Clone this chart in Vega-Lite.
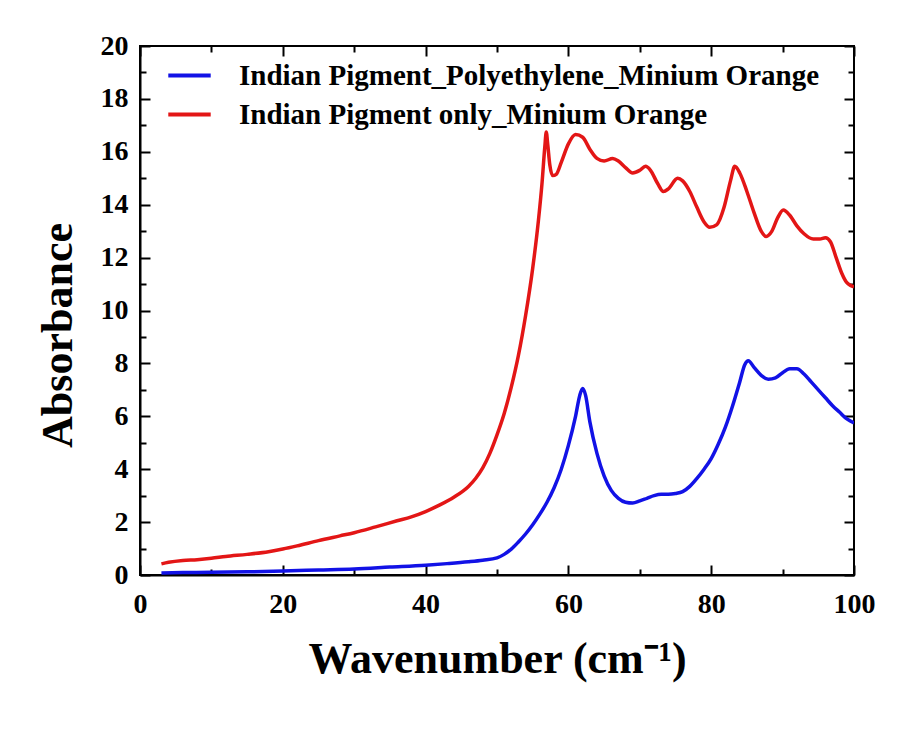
{
  "$schema": "https://vega.github.io/schema/vega-lite/v6.json",
  "width": 714,
  "height": 529,
  "autosize": {"type": "none"},
  "padding": {"left": 140, "top": 46, "right": 49, "bottom": 160},
  "background": "white",
  "config": {
    "view": {"stroke": "black", "strokeWidth": 2},
    "font": "Liberation Serif",
    "axis": {
      "labelFont": "Liberation Serif",
      "labelFontWeight": "bold",
      "labelColor": "black",
      "titleFont": "Liberation Serif",
      "titleFontWeight": "bold",
      "titleColor": "black",
      "domainColor": "black",
      "domainWidth": 2,
      "tickColor": "black",
      "tickWidth": 2,
      "grid": false,
      "labelOverlap": false,
      "labelFlush": false
    },
    "legend": {
      "labelFont": "Liberation Serif",
      "labelFontWeight": "bold",
      "labelColor": "black"
    }
  },
  "data": {"name": "spectra"},
  "datasets": {
    "spectra": [
      {"series": "Indian Pigment_Polyethylene_Minium Orange", "wavenumber": 3, "absorbance": 0.08},
      {"series": "Indian Pigment_Polyethylene_Minium Orange", "wavenumber": 6, "absorbance": 0.09},
      {"series": "Indian Pigment_Polyethylene_Minium Orange", "wavenumber": 10, "absorbance": 0.1},
      {"series": "Indian Pigment_Polyethylene_Minium Orange", "wavenumber": 15, "absorbance": 0.12},
      {"series": "Indian Pigment_Polyethylene_Minium Orange", "wavenumber": 20, "absorbance": 0.15},
      {"series": "Indian Pigment_Polyethylene_Minium Orange", "wavenumber": 25, "absorbance": 0.19},
      {"series": "Indian Pigment_Polyethylene_Minium Orange", "wavenumber": 30, "absorbance": 0.23},
      {"series": "Indian Pigment_Polyethylene_Minium Orange", "wavenumber": 35, "absorbance": 0.3},
      {"series": "Indian Pigment_Polyethylene_Minium Orange", "wavenumber": 40, "absorbance": 0.37},
      {"series": "Indian Pigment_Polyethylene_Minium Orange", "wavenumber": 43, "absorbance": 0.43},
      {"series": "Indian Pigment_Polyethylene_Minium Orange", "wavenumber": 46, "absorbance": 0.5},
      {"series": "Indian Pigment_Polyethylene_Minium Orange", "wavenumber": 48, "absorbance": 0.56},
      {"series": "Indian Pigment_Polyethylene_Minium Orange", "wavenumber": 50, "absorbance": 0.65},
      {"series": "Indian Pigment_Polyethylene_Minium Orange", "wavenumber": 51, "absorbance": 0.78},
      {"series": "Indian Pigment_Polyethylene_Minium Orange", "wavenumber": 52, "absorbance": 0.98},
      {"series": "Indian Pigment_Polyethylene_Minium Orange", "wavenumber": 53, "absorbance": 1.25},
      {"series": "Indian Pigment_Polyethylene_Minium Orange", "wavenumber": 54, "absorbance": 1.55},
      {"series": "Indian Pigment_Polyethylene_Minium Orange", "wavenumber": 55, "absorbance": 1.9},
      {"series": "Indian Pigment_Polyethylene_Minium Orange", "wavenumber": 56, "absorbance": 2.3},
      {"series": "Indian Pigment_Polyethylene_Minium Orange", "wavenumber": 57, "absorbance": 2.75},
      {"series": "Indian Pigment_Polyethylene_Minium Orange", "wavenumber": 58, "absorbance": 3.3},
      {"series": "Indian Pigment_Polyethylene_Minium Orange", "wavenumber": 59, "absorbance": 4.0},
      {"series": "Indian Pigment_Polyethylene_Minium Orange", "wavenumber": 60, "absorbance": 4.9},
      {"series": "Indian Pigment_Polyethylene_Minium Orange", "wavenumber": 61, "absorbance": 6.0},
      {"series": "Indian Pigment_Polyethylene_Minium Orange", "wavenumber": 61.6, "absorbance": 6.8},
      {"series": "Indian Pigment_Polyethylene_Minium Orange", "wavenumber": 62, "absorbance": 7.05},
      {"series": "Indian Pigment_Polyethylene_Minium Orange", "wavenumber": 62.4, "absorbance": 6.8},
      {"series": "Indian Pigment_Polyethylene_Minium Orange", "wavenumber": 63, "absorbance": 5.8},
      {"series": "Indian Pigment_Polyethylene_Minium Orange", "wavenumber": 64, "absorbance": 4.6},
      {"series": "Indian Pigment_Polyethylene_Minium Orange", "wavenumber": 65, "absorbance": 3.75},
      {"series": "Indian Pigment_Polyethylene_Minium Orange", "wavenumber": 66, "absorbance": 3.2},
      {"series": "Indian Pigment_Polyethylene_Minium Orange", "wavenumber": 67, "absorbance": 2.9},
      {"series": "Indian Pigment_Polyethylene_Minium Orange", "wavenumber": 68, "absorbance": 2.75},
      {"series": "Indian Pigment_Polyethylene_Minium Orange", "wavenumber": 69, "absorbance": 2.72},
      {"series": "Indian Pigment_Polyethylene_Minium Orange", "wavenumber": 70, "absorbance": 2.8},
      {"series": "Indian Pigment_Polyethylene_Minium Orange", "wavenumber": 71, "absorbance": 2.9},
      {"series": "Indian Pigment_Polyethylene_Minium Orange", "wavenumber": 72, "absorbance": 3.0},
      {"series": "Indian Pigment_Polyethylene_Minium Orange", "wavenumber": 73, "absorbance": 3.05},
      {"series": "Indian Pigment_Polyethylene_Minium Orange", "wavenumber": 74, "absorbance": 3.05},
      {"series": "Indian Pigment_Polyethylene_Minium Orange", "wavenumber": 75, "absorbance": 3.08},
      {"series": "Indian Pigment_Polyethylene_Minium Orange", "wavenumber": 76, "absorbance": 3.15},
      {"series": "Indian Pigment_Polyethylene_Minium Orange", "wavenumber": 77, "absorbance": 3.35},
      {"series": "Indian Pigment_Polyethylene_Minium Orange", "wavenumber": 78, "absorbance": 3.65},
      {"series": "Indian Pigment_Polyethylene_Minium Orange", "wavenumber": 79, "absorbance": 4.0},
      {"series": "Indian Pigment_Polyethylene_Minium Orange", "wavenumber": 80, "absorbance": 4.4},
      {"series": "Indian Pigment_Polyethylene_Minium Orange", "wavenumber": 81, "absorbance": 4.95},
      {"series": "Indian Pigment_Polyethylene_Minium Orange", "wavenumber": 82, "absorbance": 5.6},
      {"series": "Indian Pigment_Polyethylene_Minium Orange", "wavenumber": 83, "absorbance": 6.4},
      {"series": "Indian Pigment_Polyethylene_Minium Orange", "wavenumber": 84, "absorbance": 7.3},
      {"series": "Indian Pigment_Polyethylene_Minium Orange", "wavenumber": 84.7, "absorbance": 7.95},
      {"series": "Indian Pigment_Polyethylene_Minium Orange", "wavenumber": 85.2, "absorbance": 8.1},
      {"series": "Indian Pigment_Polyethylene_Minium Orange", "wavenumber": 86, "absorbance": 7.85},
      {"series": "Indian Pigment_Polyethylene_Minium Orange", "wavenumber": 87, "absorbance": 7.55},
      {"series": "Indian Pigment_Polyethylene_Minium Orange", "wavenumber": 88, "absorbance": 7.4},
      {"series": "Indian Pigment_Polyethylene_Minium Orange", "wavenumber": 89, "absorbance": 7.45},
      {"series": "Indian Pigment_Polyethylene_Minium Orange", "wavenumber": 90, "absorbance": 7.65},
      {"series": "Indian Pigment_Polyethylene_Minium Orange", "wavenumber": 91, "absorbance": 7.8},
      {"series": "Indian Pigment_Polyethylene_Minium Orange", "wavenumber": 92, "absorbance": 7.8},
      {"series": "Indian Pigment_Polyethylene_Minium Orange", "wavenumber": 93, "absorbance": 7.6},
      {"series": "Indian Pigment_Polyethylene_Minium Orange", "wavenumber": 94, "absorbance": 7.3},
      {"series": "Indian Pigment_Polyethylene_Minium Orange", "wavenumber": 95, "absorbance": 7.0},
      {"series": "Indian Pigment_Polyethylene_Minium Orange", "wavenumber": 96, "absorbance": 6.7},
      {"series": "Indian Pigment_Polyethylene_Minium Orange", "wavenumber": 97, "absorbance": 6.4},
      {"series": "Indian Pigment_Polyethylene_Minium Orange", "wavenumber": 98, "absorbance": 6.15},
      {"series": "Indian Pigment_Polyethylene_Minium Orange", "wavenumber": 99, "absorbance": 5.9},
      {"series": "Indian Pigment_Polyethylene_Minium Orange", "wavenumber": 100, "absorbance": 5.75},
      {"series": "Indian Pigment only_Minium Orange", "wavenumber": 3, "absorbance": 0.42},
      {"series": "Indian Pigment only_Minium Orange", "wavenumber": 4, "absorbance": 0.48},
      {"series": "Indian Pigment only_Minium Orange", "wavenumber": 6, "absorbance": 0.55},
      {"series": "Indian Pigment only_Minium Orange", "wavenumber": 8, "absorbance": 0.58},
      {"series": "Indian Pigment only_Minium Orange", "wavenumber": 10, "absorbance": 0.63},
      {"series": "Indian Pigment only_Minium Orange", "wavenumber": 12, "absorbance": 0.7},
      {"series": "Indian Pigment only_Minium Orange", "wavenumber": 15, "absorbance": 0.78},
      {"series": "Indian Pigment only_Minium Orange", "wavenumber": 18, "absorbance": 0.88},
      {"series": "Indian Pigment only_Minium Orange", "wavenumber": 20, "absorbance": 0.98},
      {"series": "Indian Pigment only_Minium Orange", "wavenumber": 22, "absorbance": 1.1},
      {"series": "Indian Pigment only_Minium Orange", "wavenumber": 25, "absorbance": 1.3},
      {"series": "Indian Pigment only_Minium Orange", "wavenumber": 28, "absorbance": 1.48},
      {"series": "Indian Pigment only_Minium Orange", "wavenumber": 30, "absorbance": 1.6},
      {"series": "Indian Pigment only_Minium Orange", "wavenumber": 33, "absorbance": 1.82},
      {"series": "Indian Pigment only_Minium Orange", "wavenumber": 36, "absorbance": 2.05},
      {"series": "Indian Pigment only_Minium Orange", "wavenumber": 38, "absorbance": 2.2},
      {"series": "Indian Pigment only_Minium Orange", "wavenumber": 40, "absorbance": 2.4},
      {"series": "Indian Pigment only_Minium Orange", "wavenumber": 42, "absorbance": 2.65},
      {"series": "Indian Pigment only_Minium Orange", "wavenumber": 44, "absorbance": 2.95},
      {"series": "Indian Pigment only_Minium Orange", "wavenumber": 46, "absorbance": 3.35},
      {"series": "Indian Pigment only_Minium Orange", "wavenumber": 47, "absorbance": 3.65},
      {"series": "Indian Pigment only_Minium Orange", "wavenumber": 48, "absorbance": 4.05},
      {"series": "Indian Pigment only_Minium Orange", "wavenumber": 49, "absorbance": 4.6},
      {"series": "Indian Pigment only_Minium Orange", "wavenumber": 50, "absorbance": 5.3},
      {"series": "Indian Pigment only_Minium Orange", "wavenumber": 51, "absorbance": 6.1},
      {"series": "Indian Pigment only_Minium Orange", "wavenumber": 52, "absorbance": 7.1},
      {"series": "Indian Pigment only_Minium Orange", "wavenumber": 53, "absorbance": 8.3},
      {"series": "Indian Pigment only_Minium Orange", "wavenumber": 54, "absorbance": 9.8},
      {"series": "Indian Pigment only_Minium Orange", "wavenumber": 55, "absorbance": 11.6},
      {"series": "Indian Pigment only_Minium Orange", "wavenumber": 55.8, "absorbance": 13.4},
      {"series": "Indian Pigment only_Minium Orange", "wavenumber": 56.3, "absorbance": 14.8},
      {"series": "Indian Pigment only_Minium Orange", "wavenumber": 56.7, "absorbance": 16.2},
      {"series": "Indian Pigment only_Minium Orange", "wavenumber": 56.9, "absorbance": 16.75},
      {"series": "Indian Pigment only_Minium Orange", "wavenumber": 57.1, "absorbance": 16.3},
      {"series": "Indian Pigment only_Minium Orange", "wavenumber": 57.4, "absorbance": 15.5},
      {"series": "Indian Pigment only_Minium Orange", "wavenumber": 57.8, "absorbance": 15.1},
      {"series": "Indian Pigment only_Minium Orange", "wavenumber": 58.3, "absorbance": 15.15},
      {"series": "Indian Pigment only_Minium Orange", "wavenumber": 59, "absorbance": 15.6},
      {"series": "Indian Pigment only_Minium Orange", "wavenumber": 60, "absorbance": 16.3},
      {"series": "Indian Pigment only_Minium Orange", "wavenumber": 61, "absorbance": 16.65},
      {"series": "Indian Pigment only_Minium Orange", "wavenumber": 62, "absorbance": 16.55},
      {"series": "Indian Pigment only_Minium Orange", "wavenumber": 63, "absorbance": 16.1},
      {"series": "Indian Pigment only_Minium Orange", "wavenumber": 64, "absorbance": 15.75},
      {"series": "Indian Pigment only_Minium Orange", "wavenumber": 65, "absorbance": 15.65},
      {"series": "Indian Pigment only_Minium Orange", "wavenumber": 66.2, "absorbance": 15.75},
      {"series": "Indian Pigment only_Minium Orange", "wavenumber": 67, "absorbance": 15.65},
      {"series": "Indian Pigment only_Minium Orange", "wavenumber": 68, "absorbance": 15.4},
      {"series": "Indian Pigment only_Minium Orange", "wavenumber": 69, "absorbance": 15.2},
      {"series": "Indian Pigment only_Minium Orange", "wavenumber": 70, "absorbance": 15.3},
      {"series": "Indian Pigment only_Minium Orange", "wavenumber": 70.8, "absorbance": 15.45},
      {"series": "Indian Pigment only_Minium Orange", "wavenumber": 71.5, "absorbance": 15.3},
      {"series": "Indian Pigment only_Minium Orange", "wavenumber": 72.5, "absorbance": 14.8},
      {"series": "Indian Pigment only_Minium Orange", "wavenumber": 73.3, "absorbance": 14.5},
      {"series": "Indian Pigment only_Minium Orange", "wavenumber": 74, "absorbance": 14.6},
      {"series": "Indian Pigment only_Minium Orange", "wavenumber": 75.3, "absorbance": 15.0},
      {"series": "Indian Pigment only_Minium Orange", "wavenumber": 76, "absorbance": 14.9},
      {"series": "Indian Pigment only_Minium Orange", "wavenumber": 77, "absorbance": 14.5},
      {"series": "Indian Pigment only_Minium Orange", "wavenumber": 78, "absorbance": 13.9},
      {"series": "Indian Pigment only_Minium Orange", "wavenumber": 79, "absorbance": 13.35},
      {"series": "Indian Pigment only_Minium Orange", "wavenumber": 79.8, "absorbance": 13.15},
      {"series": "Indian Pigment only_Minium Orange", "wavenumber": 80.8, "absorbance": 13.25},
      {"series": "Indian Pigment only_Minium Orange", "wavenumber": 81.8, "absorbance": 13.9},
      {"series": "Indian Pigment only_Minium Orange", "wavenumber": 82.7, "absorbance": 14.9},
      {"series": "Indian Pigment only_Minium Orange", "wavenumber": 83.3, "absorbance": 15.45},
      {"series": "Indian Pigment only_Minium Orange", "wavenumber": 84, "absorbance": 15.2},
      {"series": "Indian Pigment only_Minium Orange", "wavenumber": 85, "absorbance": 14.5},
      {"series": "Indian Pigment only_Minium Orange", "wavenumber": 86, "absorbance": 13.7},
      {"series": "Indian Pigment only_Minium Orange", "wavenumber": 87, "absorbance": 13.0},
      {"series": "Indian Pigment only_Minium Orange", "wavenumber": 87.7, "absorbance": 12.8},
      {"series": "Indian Pigment only_Minium Orange", "wavenumber": 88.5, "absorbance": 13.0},
      {"series": "Indian Pigment only_Minium Orange", "wavenumber": 89.3, "absorbance": 13.5},
      {"series": "Indian Pigment only_Minium Orange", "wavenumber": 90.1, "absorbance": 13.8},
      {"series": "Indian Pigment only_Minium Orange", "wavenumber": 91, "absorbance": 13.6},
      {"series": "Indian Pigment only_Minium Orange", "wavenumber": 92, "absorbance": 13.2},
      {"series": "Indian Pigment only_Minium Orange", "wavenumber": 93, "absorbance": 12.9},
      {"series": "Indian Pigment only_Minium Orange", "wavenumber": 94.3, "absorbance": 12.7},
      {"series": "Indian Pigment only_Minium Orange", "wavenumber": 95.2, "absorbance": 12.7},
      {"series": "Indian Pigment only_Minium Orange", "wavenumber": 96, "absorbance": 12.75},
      {"series": "Indian Pigment only_Minium Orange", "wavenumber": 96.7, "absorbance": 12.6},
      {"series": "Indian Pigment only_Minium Orange", "wavenumber": 97.5, "absorbance": 12.0},
      {"series": "Indian Pigment only_Minium Orange", "wavenumber": 98.3, "absorbance": 11.4},
      {"series": "Indian Pigment only_Minium Orange", "wavenumber": 99, "absorbance": 11.05},
      {"series": "Indian Pigment only_Minium Orange", "wavenumber": 99.5, "absorbance": 10.95},
      {"series": "Indian Pigment only_Minium Orange", "wavenumber": 100, "absorbance": 10.9}
    ]
  },
  "layer": [
    {
      "mark": {"type": "line", "strokeWidth": 3.5, "interpolate": "monotone", "clip": true},
      "encoding": {
        "x": {
          "field": "wavenumber", "type": "quantitative",
          "scale": {"domain": [0, 100], "nice": false, "zero": false},
          "axis": {
            "orient": "bottom",
            "values": [0, 10, 20, 30, 40, 50, 60, 70, 80, 90, 100],
            "labelExpr": "datum.value % 20 == 0 ? datum.label : ''",
            "tickSize": {"condition": {"test": "datum.value % 20 != 0", "value": -6}, "value": -10},
            "labelPadding": 25,
            "labelFontSize": 28,
            "title": "Wavenumber (cm⁻¹)",
            "titleFontSize": 44,
            "titlePadding": 15
          }
        },
        "y": {
          "field": "absorbance", "type": "quantitative",
          "scale": {"domain": [0, 20], "nice": false},
          "axis": {
            "orient": "left",
            "values": [0, 1, 2, 3, 4, 5, 6, 7, 8, 9, 10, 11, 12, 13, 14, 15, 16, 17, 18, 19, 20],
            "labelExpr": "datum.value % 2 == 0 ? datum.label : ''",
            "tickSize": {"condition": {"test": "datum.value % 2 != 0", "value": -6}, "value": -10},
            "labelPadding": 22,
            "labelFontSize": 28,
            "title": "Absorbance",
            "titleFontSize": 44,
            "titlePadding": 20,
            "titleY": 289
          }
        },
        "color": {
          "field": "series", "type": "nominal",
          "scale": {
            "domain": ["Indian Pigment_Polyethylene_Minium Orange", "Indian Pigment only_Minium Orange"],
            "range": ["#1212e6", "#e31616"]
          },
          "legend": {
            "title": null,
            "orient": "none",
            "legendX": 26,
            "legendY": 6,
            "padding": 0,
            "symbolType": "stroke",
            "symbolSize": 1800,
            "symbolStrokeWidth": 4,
            "labelFontSize": 29,
            "labelLimit": 0,
            "labelOffset": 26,
            "rowPadding": 0
          }
        }
      }
    },
    {
      "mark": {"type": "line", "strokeOpacity": 0},
      "encoding": {
        "x": {
          "field": "wavenumber", "type": "quantitative",
          "axis": {
            "orient": "top",
            "values": [0, 10, 20, 30, 40, 50, 60, 70, 80, 90, 100],
            "labels": false,
            "title": null,
            "domain": false,
            "tickSize": {"condition": {"test": "datum.value % 20 != 0", "value": -6}, "value": -10}
          }
        },
        "y": {
          "field": "absorbance", "type": "quantitative",
          "axis": {
            "orient": "right",
            "values": [0, 1, 2, 3, 4, 5, 6, 7, 8, 9, 10, 11, 12, 13, 14, 15, 16, 17, 18, 19, 20],
            "labels": false,
            "title": null,
            "domain": false,
            "tickSize": {"condition": {"test": "datum.value % 2 != 0", "value": -6}, "value": -10}
          }
        },
        "detail": {"field": "series"}
      }
    }
  ],
  "resolve": {"axis": {"x": "independent", "y": "independent"}}
}
